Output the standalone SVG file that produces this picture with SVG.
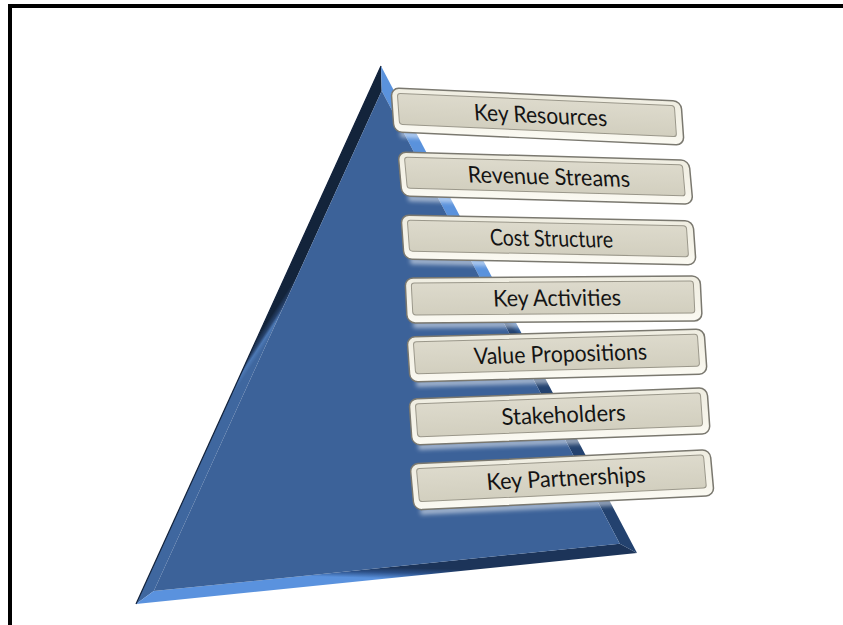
<svg xmlns="http://www.w3.org/2000/svg" width="843" height="625" viewBox="0 0 843 625">
<defs>
<linearGradient id="gl" gradientUnits="userSpaceOnUse" x1="267.75" y1="341" x2="258.5" y2="335">
<stop offset="0" stop-color="#3f679f"/><stop offset="0.35" stop-color="#4c78b4"/><stop offset="0.6" stop-color="#27426b"/><stop offset="1" stop-color="#13243b"/>
</linearGradient>
<linearGradient id="gb" gradientUnits="userSpaceOnUse" x1="386.8" y1="567.4" x2="386.5" y2="578.5">
<stop offset="0" stop-color="#1c3459"/><stop offset="0.45" stop-color="#2c5088"/><stop offset="1" stop-color="#5a92de"/>
</linearGradient>
<linearGradient id="gr" gradientUnits="userSpaceOnUse" x1="500.75" y1="317.25" x2="509" y2="309.5">
<stop offset="0" stop-color="#23426f"/><stop offset="0.5" stop-color="#3666a6"/><stop offset="1" stop-color="#5a92dc"/>
</linearGradient>
<linearGradient id="face" x1="0" y1="0" x2="0" y2="1">
<stop offset="0" stop-color="#dddacc"/><stop offset="1" stop-color="#d2cfbf"/>
</linearGradient>
<linearGradient id="frame" x1="0" y1="0" x2="0" y2="1">
<stop offset="0" stop-color="#efede1"/><stop offset="0.7" stop-color="#f6f4ea"/><stop offset="1" stop-color="#fbfaf3"/>
</linearGradient>
<filter id="blur" x="-10%" y="-100%" width="120%" height="300%"><feGaussianBlur stdDeviation="2"/></filter>
<style>
.outer{fill:url(#frame);stroke:#7a786f;stroke-width:1.5}
.inner{fill:url(#face);stroke:#9a978a;stroke-width:1}
.glow{fill:#ffffff;opacity:0.55;filter:url(#blur)}
.lbl{font-family:Lato,"Liberation Sans",sans-serif;font-size:23px;fill:#141414;text-anchor:middle}
</style>
</defs>
<rect width="843" height="625" fill="#ffffff"/>
<path d="M10,625 V6 H843" fill="none" stroke="#000" stroke-width="4"/>

<g id="pyramid">
<polygon points="381,66 136,604 153.8,591.1 381.7,90.8" fill="url(#gl)"/>
<polygon points="136,604 637,553 619.8,543.7 153.8,591.1" fill="url(#gb)"/>
<polygon points="637,553 381,66 381.7,90.8 619.8,543.7" fill="url(#gr)"/>
<polygon points="381.7,90.8 153.8,591.1 619.8,543.7" fill="#3c6299"/>
<line x1="381" y1="66" x2="136" y2="604" stroke="#10203a" stroke-width="1.2"/>
</g>

<g id="box1" transform="matrix(1 0.045 0.07 1 391 88)">
<rect class="glow" x="6" y="43" width="280" height="6"/>
<rect class="outer" x="0" y="0" width="290" height="44" rx="8"/>
<rect class="inner" x="6" y="5" width="277" height="31" rx="3"/>
<text class="lbl" x="148" y="28.5" textLength="133" lengthAdjust="spacingAndGlyphs">Key Resources</text>
</g>
<g id="box2" transform="matrix(1 0.028 0.09 1 398 152)">
<rect class="glow" x="6" y="43" width="280" height="6"/>
<rect class="outer" x="0" y="0" width="291" height="44" rx="8"/>
<rect class="inner" x="6" y="5" width="278" height="31" rx="3"/>
<text class="lbl" x="149" y="28.5" textLength="162" lengthAdjust="spacingAndGlyphs">Revenue Streams</text>
</g>
<g id="box3" transform="matrix(1 0.02 0.07 1 401 215)">
<rect class="glow" x="6" y="43" width="281" height="6"/>
<rect class="outer" x="0" y="0" width="292" height="44" rx="8"/>
<rect class="inner" x="6" y="5" width="279" height="31" rx="3"/>
<text class="lbl" x="149" y="28.5" textLength="123" lengthAdjust="spacingAndGlyphs">Cost Structure</text>
</g>
<g id="box4" transform="matrix(1 -0.007 0.05 1 405 278)">
<rect class="glow" x="6" y="44" width="284" height="6"/>
<rect class="outer" x="0" y="0" width="295" height="45" rx="8"/>
<rect class="inner" x="6" y="5" width="282" height="32" rx="3"/>
<text class="lbl" x="151" y="29" textLength="128" lengthAdjust="spacingAndGlyphs">Key Activities</text>
</g>
<g id="box5" transform="matrix(1 -0.027 0.07 1 407 337)">
<rect class="glow" x="6" y="44" width="286" height="6"/>
<rect class="outer" x="0" y="0" width="297" height="45" rx="8"/>
<rect class="inner" x="6" y="5" width="284" height="32" rx="3"/>
<text class="lbl" x="152" y="29" textLength="173" lengthAdjust="spacingAndGlyphs">Value Propositions</text>
</g>
<g id="box6" transform="matrix(1 -0.038 0.07 1 409 399)">
<rect class="glow" x="6" y="45" width="287" height="6"/>
<rect class="outer" x="0" y="0" width="298" height="46" rx="8"/>
<rect class="inner" x="6" y="5" width="285" height="33" rx="3"/>
<text class="lbl" x="153" y="29.5" textLength="124" lengthAdjust="spacingAndGlyphs">Stakeholders</text>
</g>
<g id="box7" transform="matrix(1 -0.048 0.09 1 410 464)">
<rect class="glow" x="6" y="45" width="289" height="6"/>
<rect class="outer" x="0" y="0" width="300" height="46" rx="8"/>
<rect class="inner" x="6" y="5" width="287" height="33" rx="3"/>
<text class="lbl" x="154" y="29.5" textLength="159" lengthAdjust="spacingAndGlyphs">Key Partnerships</text>
</g>
<g id="connectors"/>
</svg>
